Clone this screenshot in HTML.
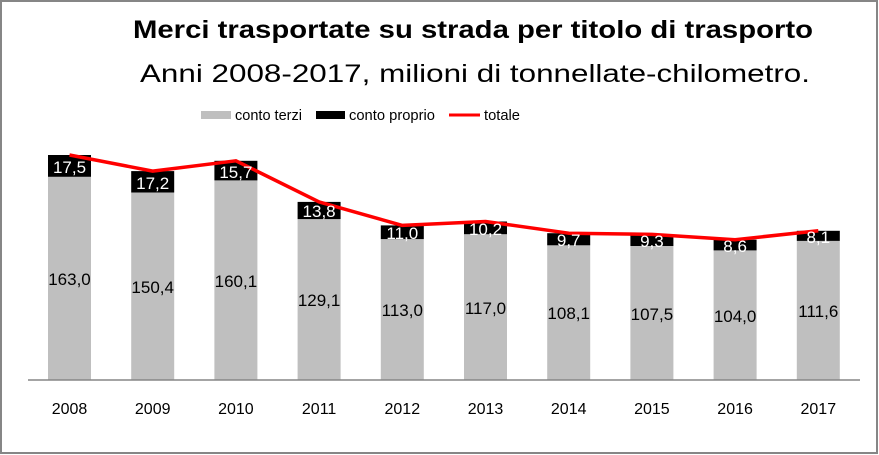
<!DOCTYPE html>
<html><head><meta charset="utf-8"><style>body{margin:0;background:#fff}svg{display:block;font-family:"Liberation Sans",sans-serif}</style></head><body>
<svg width="879" height="455" viewBox="0 0 879 455" xmlns="http://www.w3.org/2000/svg">
<rect x="1" y="1" width="876" height="452" fill="#fff" stroke="#868686" stroke-width="2"/>
<text x="473" y="38" text-anchor="middle" font-size="25" font-weight="bold" textLength="680" lengthAdjust="spacingAndGlyphs">Merci trasportate su strada per titolo di trasporto</text>
<text x="475" y="82" text-anchor="middle" font-size="25" textLength="670" lengthAdjust="spacingAndGlyphs">Anni 2008-2017, milioni di tonnellate-chilometro.</text>
<g font-size="15">
<rect x="201" y="111" width="30" height="8" fill="#bfbfbf"/><text x="235" y="120" textLength="67" lengthAdjust="spacingAndGlyphs">conto terzi</text>
<rect x="316" y="111" width="29" height="8" fill="#000"/><text x="349" y="120" textLength="86" lengthAdjust="spacingAndGlyphs">conto proprio</text>
<line x1="449" y1="115" x2="480" y2="115" stroke="#f00" stroke-width="3"/><text x="484" y="120" textLength="36" lengthAdjust="spacingAndGlyphs">totale</text>
</g>
<g fill="#bfbfbf">
<rect x="48" y="176.8" width="43" height="203.2"/>
<rect x="131.2" y="192.5" width="43" height="187.5"/>
<rect x="214.4" y="180.4" width="43" height="199.6"/>
<rect x="297.6" y="219.1" width="43" height="160.9"/>
<rect x="380.8" y="239.1" width="43" height="140.9"/>
<rect x="464" y="234.2" width="43" height="145.8"/>
<rect x="547.2" y="245.3" width="43" height="134.7"/>
<rect x="630.4" y="246" width="43" height="134"/>
<rect x="713.6" y="250.4" width="43" height="129.6"/>
<rect x="796.8" y="240.9" width="43" height="139.1"/>
</g>
<g fill="#000">
<rect x="48" y="155" width="43" height="21.8"/>
<rect x="131.2" y="171.1" width="43" height="21.4"/>
<rect x="214.4" y="160.8" width="43" height="19.6"/>
<rect x="297.6" y="201.9" width="43" height="17.2"/>
<rect x="380.8" y="225.4" width="43" height="13.7"/>
<rect x="464" y="221.5" width="43" height="12.7"/>
<rect x="547.2" y="233.2" width="43" height="12.1"/>
<rect x="630.4" y="234.4" width="43" height="11.6"/>
<rect x="713.6" y="239.7" width="43" height="10.7"/>
<rect x="796.8" y="230.8" width="43" height="10.1"/>
</g>
<line x1="28" y1="380" x2="860" y2="380" stroke="#868686" stroke-width="1.5"/>
<polyline fill="none" stroke="#f00" stroke-width="3.5" stroke-linejoin="round" points="69.5,155 152.7,171.1 235.9,160.8 319.1,201.9 402.3,225.4 485.5,221.5 568.7,233.2 651.9,234.4 735.1,239.7 818.3,230.8"/>
<g font-size="17" fill="#fff" text-anchor="middle">
<text x="69.5" y="173">17,5</text><text x="152.7" y="189">17,2</text><text x="235.9" y="178">15,7</text><text x="319.1" y="217">13,8</text><text x="402.3" y="239">11,0</text><text x="485.5" y="235">10,2</text><text x="568.7" y="246">9,7</text><text x="651.9" y="247">9,3</text><text x="735.1" y="252">8,6</text><text x="818.3" y="243">8,1</text>
</g>
<g font-size="17" fill="#000" text-anchor="middle">
<text x="69.5" y="285">163,0</text><text x="152.7" y="293">150,4</text><text x="235.9" y="287">160,1</text><text x="319.1" y="306">129,1</text><text x="402.3" y="316">113,0</text><text x="485.5" y="314">117,0</text><text x="568.7" y="319">108,1</text><text x="651.9" y="320">107,5</text><text x="735.1" y="322">104,0</text><text x="818.3" y="317">111,6</text>
</g>
<g font-size="16" fill="#000" text-anchor="middle">
<text x="69.5" y="414">2008</text><text x="152.7" y="414">2009</text><text x="235.9" y="414">2010</text><text x="319.1" y="414">2011</text><text x="402.3" y="414">2012</text><text x="485.5" y="414">2013</text><text x="568.7" y="414">2014</text><text x="651.9" y="414">2015</text><text x="735.1" y="414">2016</text><text x="818.3" y="414">2017</text>
</g>
</svg>
</body></html>
